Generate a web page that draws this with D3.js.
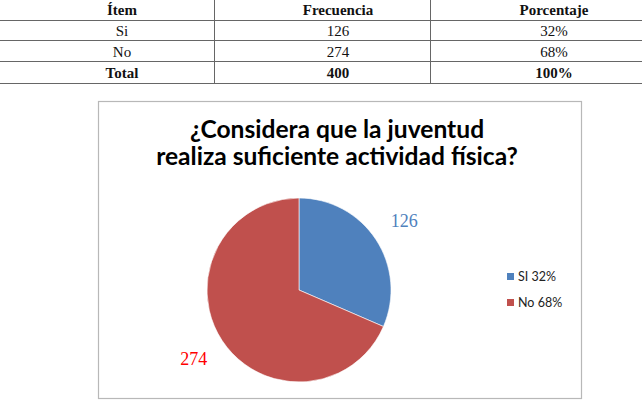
<!DOCTYPE html>
<html>
<head>
<meta charset="utf-8">
<script src="https://cdn.jsdelivr.net/npm/d3@7"></script>
<style>
  body { margin: 0; background: #fff; }
  svg { display: block; }
</style>
</head>
<body>
<div id="chart"></div>
<script>
// table data
const headers = ["Ítem", "Frecuencia", "Porcentaje"];
const items = ["Si", "No"];
const freqs = [126, 274];
const pcts = ["32%", "68%"];
const totalRow = ["Total", "400", "100%"];

// pie data
const legendLabels = ["SI 32%", "No 68%"];
const titleLines = ["¿Considera que la juventud", "realiza suficiente actividad física?"];

const width = 642, height = 409;
const colors = ['#4F81BD', '#C0504D'];
const labelColors = ['#4F81BD', '#FF0000'];

const svg = d3.select("#chart").append("svg")
    .attr("width", width)
    .attr("height", height);

// ---- table ----
const rows = [headers].concat(items.map((d, i) => [d, String(freqs[i]), pcts[i]]), [totalRow]);
const rowY = d3.scaleBand().domain(d3.range(rows.length)).range([-1, 83]);
const colX = d3.scaleBand().domain(d3.range(3)).range([14, 662]);

const tbl = svg.append("g");
[20, 40, 61, 83].forEach(y => {
    tbl.append("line").attr("x1", 0).attr("x2", width).attr("y1", y + 0.5).attr("y2", y + 0.5)
        .attr("stroke", "#666").attr("stroke-width", 1);
});
[214, 430].forEach(x => {
    tbl.append("line").attr("x1", x + 0.5).attr("x2", x + 0.5).attr("y1", 0).attr("y2", 83)
        .attr("stroke", "#666").attr("stroke-width", 1);
});
rows.forEach((r, ri) => {
    r.forEach((c, ci) => {
        tbl.append("text")
            .attr("x", colX(ci) + colX.bandwidth() / 2)
            .attr("y", rowY(ri) + rowY.bandwidth() / 2 + 5)
            .attr("text-anchor", "middle")
            .attr("font-family", "'Liberation Serif', 'Times New Roman', serif")
            .attr("font-size", 15)
            .attr("font-weight", (ri === 0 || ri === rows.length - 1) ? "bold" : "normal")
            .attr("fill", "#111")
            .text(c);
    });
});

// ---- chart box ----
svg.append("rect")
    .attr("x", 98.5).attr("y", 101.5)
    .attr("width", 483).attr("height", 297)
    .attr("fill", "#fff")
    .attr("stroke", "#b8b8b8")
    .attr("stroke-width", 1.2);

const title = svg.append("g");
titleLines.forEach((t, i) => {
    title.append("text")
        .attr("x", 337)
        .attr("y", 138 + i * 27)
        .attr("text-anchor", "middle")
        .attr("font-family", "Lato, 'Open Sans', sans-serif")
        .attr("font-weight", "bold")
        .attr("font-size", 24.6)
        .attr("fill", "#000")
        .text(t);
});

// ---- pie ----
const cx = 299, cy = 290, r = 92;
const pie = d3.pie().sort(null).value(d => d)(freqs);
const arc = d3.arc().innerRadius(0).outerRadius(r);
const labelArc = d3.arc().innerRadius(126).outerRadius(126);

const g = svg.append("g").attr("transform", `translate(${cx},${cy})`);
g.selectAll("path").data(pie).enter().append("path")
    .attr("d", arc)
    .attr("fill", (d, i) => colors[i])
    .attr("stroke", "#fff")
    .attr("stroke-width", 0.6);

g.selectAll("text.lbl").data(pie).enter().append("text")
    .attr("class", "lbl")
    .attr("transform", d => `translate(${labelArc.centroid(d)})`)
    .attr("dy", "0.35em")
    .attr("text-anchor", "middle")
    .attr("font-family", "'Liberation Serif', 'Times New Roman', serif")
    .attr("font-size", 18)
    .attr("fill", (d, i) => labelColors[i])
    .text(d => d.data);

// ---- legend ----
const leg = svg.append("g").attr("transform", "translate(507,273)");
const legY = d3.scalePoint().domain(legendLabels).range([0, 26]);
legendLabels.forEach((l, i) => {
    leg.append("rect").attr("x", 0).attr("y", legY(l)).attr("width", 7).attr("height", 7)
        .attr("fill", colors[i]);
    leg.append("text").attr("x", 11).attr("y", legY(l) + 8)
        .attr("font-family", "Lato, 'Open Sans', sans-serif")
        .attr("font-size", 12.5)
        .attr("fill", "#222")
        .text(l);
});
</script>
</body>
</html>
